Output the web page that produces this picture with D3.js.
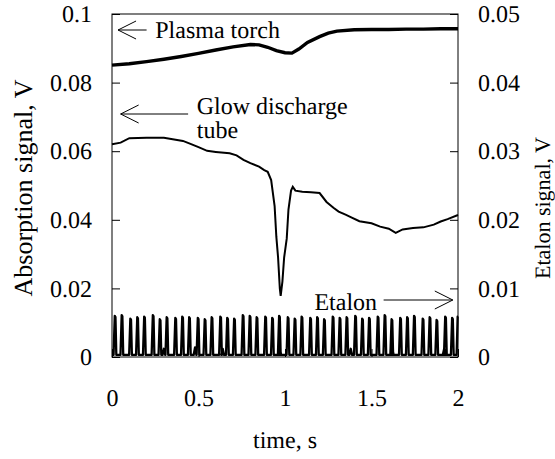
<!DOCTYPE html>
<html>
<head>
<meta charset="utf-8">
<script src="https://cdn.jsdelivr.net/npm/d3@7"></script>
<style>
  body { margin: 0; background: #fff; }
  svg text { font-family: "Liberation Serif", "Times New Roman", "DejaVu Serif", serif; fill: #000; text-rendering: geometricPrecision; }
</style>
</head>
<body>
<div id="chart"></div>
<script>
var serif = "Liberation Serif, Times New Roman, DejaVu Serif, serif";
var labelSize = "24px";

// time axis ticks and value ticks
var xTicks = [0, 0.5, 1, 1.5, 2];
var leftTicks = [0, 0.02, 0.04, 0.06, 0.08, 0.1];
var rightTicks = [0, 0.01, 0.02, 0.03, 0.04, 0.05];

// plasma torch trace (left axis)
var plasmaT = [0, 0.1, 0.2, 0.3, 0.4, 0.5, 0.6, 0.7, 0.8, 0.85, 0.9, 0.95, 1.0, 1.04, 1.08, 1.13, 1.2, 1.25, 1.3, 1.4, 1.5, 1.6, 1.7, 1.8, 1.9, 2.0];
var plasmaV = [0.0851, 0.0855, 0.0861, 0.0868, 0.0876, 0.0885, 0.0895, 0.0904, 0.0911, 0.0910, 0.0903, 0.0893, 0.0887, 0.0886, 0.0898, 0.0917, 0.0934, 0.0944, 0.0950, 0.0954, 0.0955, 0.0955, 0.0956, 0.0956, 0.0957, 0.0957];

// glow discharge tube trace (left axis)
var glowT = [0, 0.05, 0.1, 0.2, 0.3, 0.41, 0.45, 0.5, 0.55, 0.6, 0.68, 0.72, 0.76, 0.8, 0.85, 0.88, 0.9, 0.92, 0.94, 0.95, 0.96, 0.97, 0.975, 0.985, 0.995, 1.01, 1.02, 1.035, 1.045, 1.06, 1.1, 1.15, 1.2, 1.24, 1.28, 1.31, 1.35, 1.38, 1.43, 1.5, 1.55, 1.6, 1.64, 1.68, 1.74, 1.8, 1.86, 1.9, 1.94, 2.0];
var glowV = [0.0620, 0.0625, 0.0638, 0.0639, 0.0639, 0.0630, 0.0622, 0.0612, 0.0601, 0.0598, 0.0594, 0.0588, 0.0575, 0.0565, 0.0555, 0.0545, 0.0540, 0.0516, 0.0440, 0.0350, 0.0290, 0.0200, 0.0178, 0.0220, 0.0290, 0.0345, 0.0430, 0.0485, 0.0496, 0.0485, 0.0482, 0.0480, 0.0478, 0.0452, 0.0435, 0.0424, 0.0415, 0.0408, 0.0396, 0.0390, 0.0380, 0.0374, 0.0362, 0.0372, 0.0376, 0.0378, 0.0386, 0.0395, 0.0402, 0.0414];

// etalon fringes (right axis): peak times and heights, small bumps between
var etalonPeakT = [0.02, 0.06, 0.11, 0.15, 0.19, 0.24, 0.28, 0.32, 0.37, 0.41, 0.45, 0.50, 0.54, 0.58, 0.63, 0.67, 0.71, 0.76, 0.80, 0.84, 0.89, 0.93, 0.97, 1.02, 1.06, 1.10, 1.15, 1.19, 1.23, 1.28, 1.32, 1.36, 1.41, 1.45, 1.49, 1.54, 1.58, 1.62, 1.67, 1.71, 1.75, 1.80, 1.84, 1.88, 1.93, 1.97];
var etalonPeakV = [0.0060, 0.0061, 0.0056, 0.0058, 0.0059, 0.0061, 0.0055, 0.0058, 0.0057, 0.0059, 0.0058, 0.0057, 0.0055, 0.0058, 0.0059, 0.0057, 0.0056, 0.0061, 0.0060, 0.0058, 0.0059, 0.0057, 0.0060, 0.0058, 0.0056, 0.0059, 0.0057, 0.0058, 0.0055, 0.0059, 0.0057, 0.0058, 0.0060, 0.0056, 0.0057, 0.0059, 0.0061, 0.0055, 0.0057, 0.0058, 0.0060, 0.0056, 0.0058, 0.0054, 0.0059, 0.0057];
var etalonBumpT = [0.30, 0.48, 0.64, 0.97, 1.38, 1.62, 1.92];
var etalonBumpV = [0.0012, 0.0014, 0.0012, 0.0013, 0.0012, 0.0014, 0.0012];
var etalonBase = 0.0003;

var margin = {top: 14, right: 97, bottom: 102, left: 112};
var width = 555 - margin.left - margin.right;
var height = 459 - margin.top - margin.bottom;

var svg = d3.select("#chart")
  .append("svg")
  .attr("width", 555)
  .attr("height", 459)
  .attr("font-family", serif);

var x = d3.scaleLinear().domain([0, 2]).range([0, width]);
var yL = d3.scaleLinear().domain([0, 0.1]).range([height, 0]);
var yR = d3.scaleLinear().domain([0, 0.05]).range([height, 0]);

var g = svg.append("g")
  .attr("transform", "translate(" + margin.left + "," + margin.top + ")");

var fmt = function(d) { return d === 0 ? "0" : String(+d.toFixed(2)); };

// left axis (ticks inside)
var left = g.append("g")
  .call(d3.axisLeft(yL).tickValues(leftTicks).tickSizeInner(-8).tickSizeOuter(0).tickFormat(fmt))
  .attr("font-family", serif).attr("font-size", labelSize);
left.select(".domain").remove();
left.selectAll("text").attr("x", -20).attr("dy", "0.32em");

// right axis
var right = g.append("g")
  .attr("transform", "translate(" + width + ",0)")
  .call(d3.axisRight(yR).tickValues(rightTicks).tickSizeInner(-8).tickSizeOuter(0).tickFormat(fmt))
  .attr("font-family", serif).attr("font-size", labelSize);
right.select(".domain").remove();
right.selectAll("text").attr("x", 20).attr("dy", "0.32em");

// bottom axis labels
var bottom = g.append("g")
  .attr("transform", "translate(0," + height + ")")
  .call(d3.axisBottom(x).tickValues(xTicks).tickSizeInner(-8).tickSizeOuter(0)
    .tickFormat(function(d) { return String(d); }))
  .attr("font-family", serif).attr("font-size", labelSize);
bottom.select(".domain").remove();
bottom.selectAll("text").attr("y", 0).attr("dy", 49);

g.selectAll(".tick line").attr("stroke", "#000");

// frame
g.append("rect")
  .attr("width", width)
  .attr("height", height)
  .attr("fill", "none")
  .attr("stroke", "#000")
  .attr("stroke-width", 1);

// etalon trace built from the peak list
var etalonPts = [[0, etalonBase]];
var bumps = etalonBumpT.map(function(t, i) { return {t: t, v: etalonBumpV[i], bump: true}; });
var peaks = etalonPeakT.map(function(t, i) { return {t: t, v: etalonPeakV[i], bump: false}; });
peaks.concat(bumps).sort(function(a, b) { return a.t - b.t; }).forEach(function(p) {
  if (p.bump) {
    etalonPts.push([p.t - 0.008, etalonBase], [p.t, p.v], [p.t + 0.008, etalonBase]);
  } else {
    etalonPts.push([p.t - 0.011, etalonBase], [p.t - 0.004, p.v], [p.t, p.v * 0.97], [p.t + 0.005, etalonBase]);
  }
});
etalonPts.push([1.992, etalonBase], [1.998, 0.0059], [2, 0.0059]);

var lineR = d3.line()
  .x(function(d) { return x(d[0]); })
  .y(function(d) { return yR(d[1]); });

g.append("path")
  .datum(etalonPts)
  .attr("d", lineR)
  .attr("fill", "none")
  .attr("stroke", "#000")
  .attr("stroke-width", 2.3)
  .attr("stroke-linejoin", "round");

var lineL = d3.line()
  .x(function(d) { return x(d[0]); })
  .y(function(d) { return yL(d[1]); });

g.append("path")
  .datum(plasmaT.map(function(t, i) { return [t, plasmaV[i]]; }))
  .attr("d", lineL)
  .attr("fill", "none")
  .attr("stroke", "#000")
  .attr("stroke-width", 3.4);

g.append("path")
  .datum(glowT.map(function(t, i) { return [t, glowV[i]]; }))
  .attr("d", lineL)
  .attr("fill", "none")
  .attr("stroke", "#000")
  .attr("stroke-width", 2);

// annotations
function arrow(x1, x2, y, dir) {
  // dir = -1 points left, 1 points right; tip at x2
  g.append("line").attr("x1", x1).attr("x2", x2).attr("y1", y).attr("y2", y)
    .attr("stroke", "#000").attr("stroke-width", 1);
  g.append("polyline")
    .attr("points", (x2 - dir * 18) + "," + (y - 9) + " " + x2 + "," + y + " " + (x2 - dir * 18) + "," + (y + 9))
    .attr("fill", "none").attr("stroke", "#000").attr("stroke-width", 1);
}

arrow(x(0.2), x(0.035), 16, -1);
g.append("text").attr("x", x(0.25)).attr("y", 24).attr("font-size", labelSize).text("Plasma torch");

arrow(x(0.44), x(0.05), 100, -1);
g.append("text").attr("x", x(0.49)).attr("y", 100).attr("font-size", labelSize).text("Glow discharge");
g.append("text").attr("x", x(0.49)).attr("y", 124).attr("font-size", labelSize).text("tube");

arrow(x(1.57), x(1.97), 286, 1);
g.append("text").attr("x", x(1.17)).attr("y", 296).attr("font-size", labelSize).text("Etalon");

// axis titles
svg.append("text")
  .attr("transform", "translate(32," + 188 + ") rotate(-90)")
  .attr("text-anchor", "middle")
  .attr("font-size", "26px")
  .text("Absorption signal, V");

svg.append("text")
  .attr("transform", "translate(550," + 208 + ") rotate(-90)")
  .attr("text-anchor", "middle")
  .attr("font-size", "22px")
  .text("Etalon signal, V");

svg.append("text")
  .attr("x", margin.left + width / 2)
  .attr("y", 448)
  .attr("text-anchor", "middle")
  .attr("font-size", labelSize)
  .text("time, s");
</script>
</body>
</html>
